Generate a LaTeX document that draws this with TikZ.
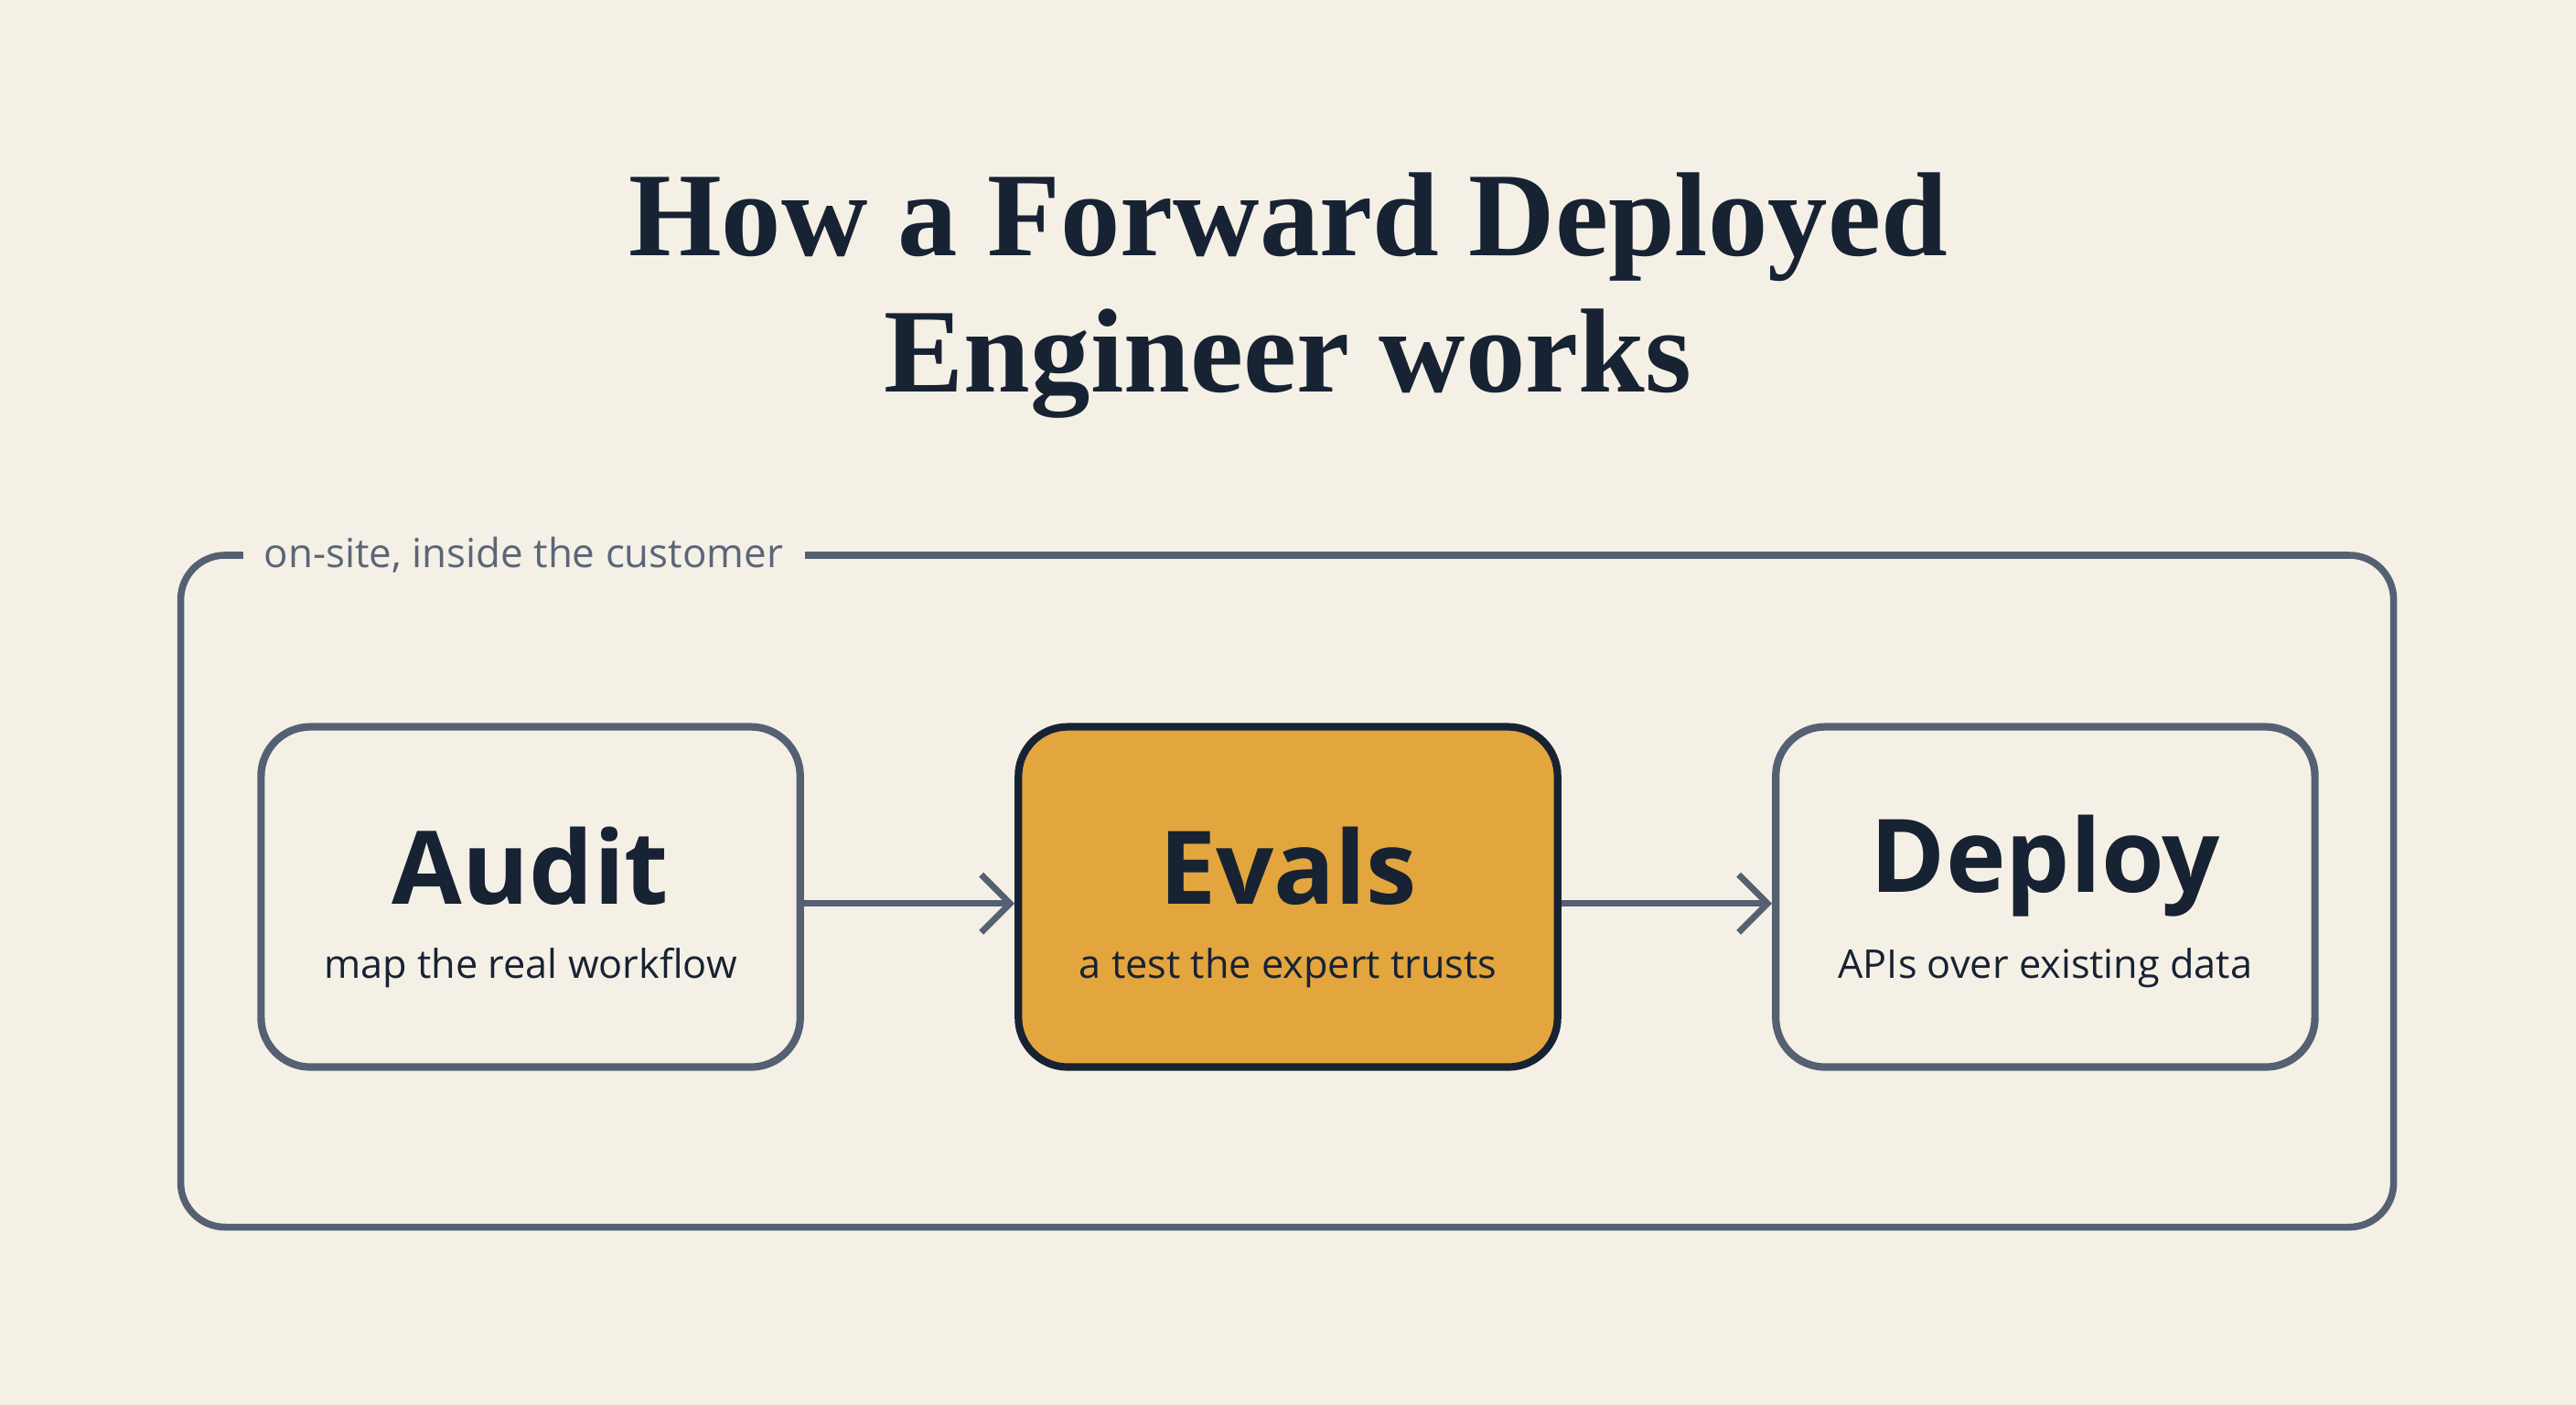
\documentclass[tikz,border=0pt]{standalone}
\usepackage{fontspec}
\usetikzlibrary{arrows.meta}
\setmainfont{Liberation Serif}
\setsansfont{Open Sans}
\definecolor{bg}{HTML}{F5F0E6}
\definecolor{ink}{HTML}{172233}
\definecolor{frame}{HTML}{556073}
\definecolor{gold}{HTML}{E3A53D}
\definecolor{lab}{HTML}{5A6678}
\begin{document}
\begin{tikzpicture}[x=0.01cm,y=-0.01cm,
  stagebox/.style={draw=frame,line width=1.3pt,rounded corners=0.3cm,minimum width=3.28cm,minimum height=2.07cm,fill=bg},
  ttl/.style={font=\sffamily\bfseries\fontsize{17.6}{21}\selectfont,text=ink},
  sub/.style={font=\sffamily\fontsize{6.85}{9}\selectfont,text=ink},
  arr/.style={draw=frame,line width=1.1pt,-{Straight Barb[length=5pt,width=10pt]}}]
\fill[bg] (0,0) rectangle (1568,855);
\useasboundingbox (0,0) rectangle (1568,855);
\node[font=\bfseries\fontsize{20.7}{23.6}\selectfont,text=ink,align=center] (title) at (784,180) {How a Forward Deployed\\Engineer works};
\draw[frame,line width=1.2pt,rounded corners=0.27cm] (148,338) -- (110,338) -- (110,747) -- (1457,747) -- (1457,338) -- (490,338);
\node[anchor=west,font=\sffamily\fontsize{6.95}{9}\selectfont,text=lab,inner sep=0] (lbl) at (160,338) {on-site, inside the customer};
\node[stagebox] (a) at (323,546) {};
\node[stagebox,fill=gold,draw=ink] (e) at (784,546) {};
\node[stagebox] (d) at (1245,546) {};
\node[ttl] (at) at (323,527) {Audit};
\node[sub] (as) at (323,589) {map the real workflow};
\node[ttl] (et) at (784,527) {Evals};
\node[sub] (es) at (784,589) {a test the expert trusts};
\node[ttl] (dt) at (1245,527) {Deploy};
\node[sub] (ds) at (1245,589) {APIs over existing data};
\draw[arr] (a.east|-0,550) -- (e.west|-0,550);
\draw[arr] (e.east|-0,550) -- (d.west|-0,550);
\end{tikzpicture}
\end{document}
